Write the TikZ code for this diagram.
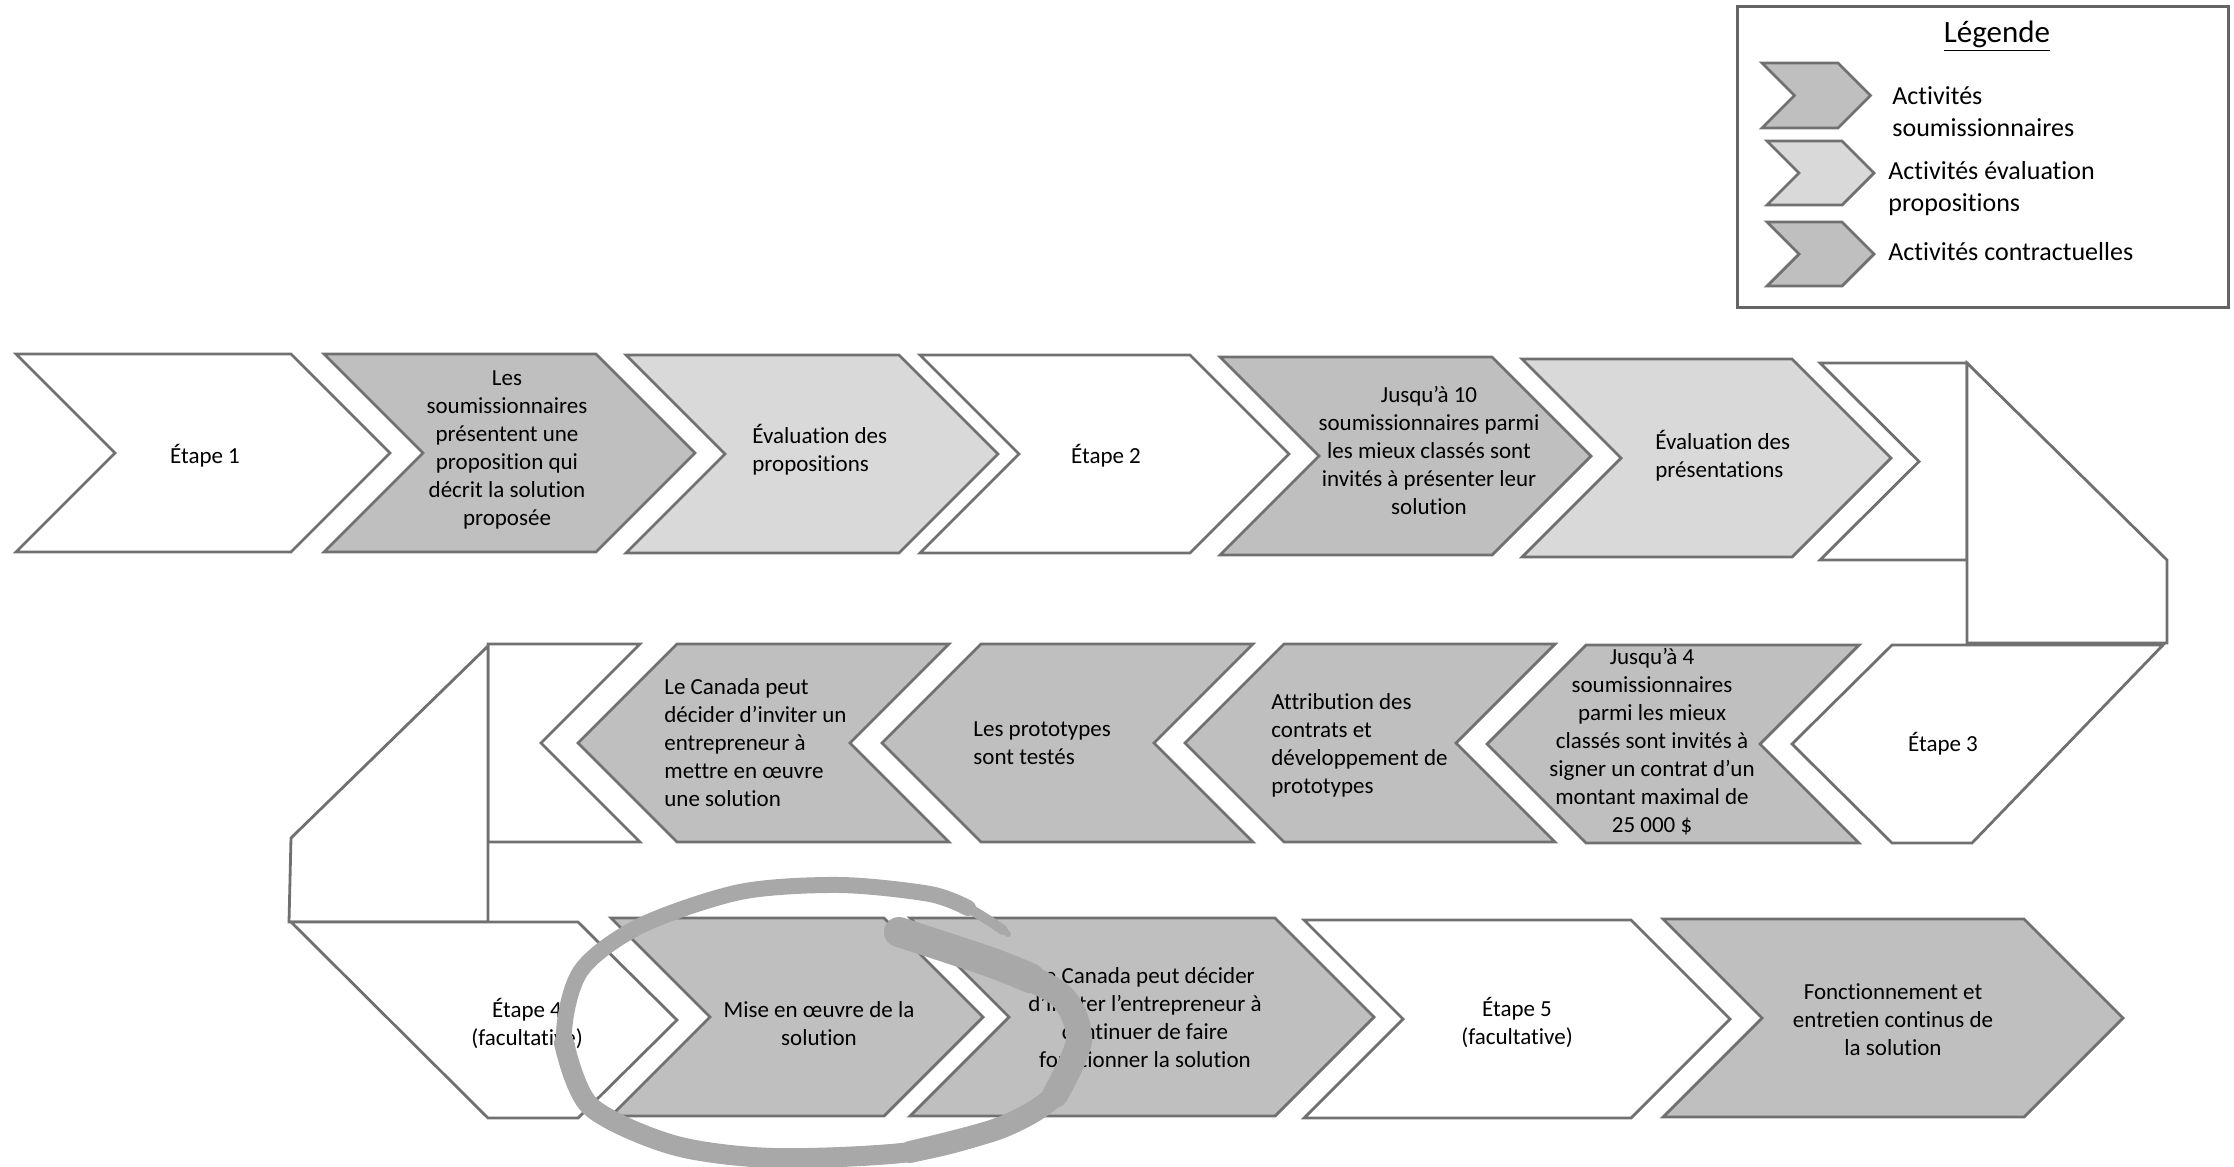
\documentclass[tikz,border=0pt]{standalone}
\usepackage{fontspec}
\setmainfont{Carlito}[Ligatures=NoCommon]
\definecolor{darkact}{HTML}{BFBFBF}
\definecolor{lightact}{HTML}{D9D9D9}
\definecolor{edgegray}{HTML}{707070}
\definecolor{ringgray}{HTML}{A8A8A8}
% chevrons: x, y (top), body width, half height, fill
\newcommand{\chevR}[5]{\draw[chevedge,fill=#5] (#1,#2) -- ++(#3,0) -- ++(#4,#4) -- ++(-#4,#4) -- ++(-#3,0) -- ++(#4,-#4) -- cycle;}
\newcommand{\chevL}[5]{\draw[chevedge,fill=#5] (#1,#2) ++(#4,0) -- ++(#3,0) -- ++(-#4,#4) -- ++(#4,#4) -- ++(-#3,0) -- ++(-#4,-#4) -- cycle;}
\begin{document}
\begin{tikzpicture}[x=0.5pt,y=-0.5pt,
  chevedge/.style={draw=edgegray,line width=1.4pt,line join=miter},
  txt/.style={font=\fontsize{11.5}{14}\selectfont,inner sep=0pt,align=center},
  legtxt/.style={font=\fontsize{13}{16}\selectfont,inner sep=0pt,align=left,anchor=west},
  ring/.style={draw=ringgray,line cap=round,line join=round}]
  \useasboundingbox (0,0) rectangle (2234,1167);

  % legende
  \draw[draw=edgegray!90!black,line width=1.5pt] (1737,6) rectangle (2228,307);
  \node[font=\fontsize{15.5}{18}\selectfont] (legtitle) at (1997,36) {\underline{Légende}};
  \chevR{1762}{63}{76}{32.5}{darkact}
  \chevR{1767}{141}{75}{32}{lightact}
  \chevR{1767}{222}{75}{32}{darkact}
  \node[legtxt] (leg1) at (1892,112) {Activités\\soumissionnaires};
  \node[legtxt] (leg2) at (1888,189) {Activités évaluation\\propositions};
  \node[legtxt] (leg3) at (1888,252) {Activités contractuelles};

  % rangee 1
  \chevR{16}{354}{275}{99}{white}
  \chevR{324}{354}{272}{99}{darkact}
  \chevR{626}{355}{273}{99}{lightact}
  \chevR{920}{355}{270}{99}{white}
  \chevR{1220}{357}{272}{99}{darkact}
  \chevR{1522}{359}{270}{99}{lightact}
  \draw[chevedge,fill=white] (1820,363) -- (1967,363) -- (1967,560) -- (1820,560) -- (1919,461.5) -- cycle;
  \draw[chevedge,fill=white] (1967,363) -- (2167,560) -- (2167,643) -- (1967,643) -- cycle;

  % rangee 2
  \draw[chevedge,fill=white] (1892,645) -- (2163,645) -- (1972,843) -- (1892,843) -- (1792,744) -- cycle;
  \chevL{1487}{645}{273}{99}{darkact}
  \chevL{1185}{644}{271}{99}{darkact}
  \chevL{882}{644}{272}{99}{darkact}
  \chevL{578}{644}{272}{99}{darkact}
  \draw[chevedge,fill=white] (488,644) -- (640,644) -- (541,743) -- (640,842) -- (488,842) -- cycle;
  \draw[chevedge,fill=white] (488,646) -- (291,838) -- (289,922) -- (488,922) -- cycle;

  % rangee 3
  \draw[chevedge,fill=white] (291,922) -- (578,922) -- (677,1020) -- (578,1118) -- (488,1118) -- cycle;
  \chevR{611}{918}{273}{99}{darkact}
  \chevR{910}{918}{365}{99}{darkact}
  \chevR{1304}{920}{327}{99}{white}
  \chevR{1663}{919}{361}{99}{darkact}

  \node[txt] (etape1) at (205,456) {Étape 1};
  \node[txt] (soumis) at (507,450) {Les\\soumissionnaires\\présentent une\\proposition qui\\décrit la solution\\proposée};
  \node[txt,align=left,anchor=west] (evalprop) at (752,450) {Évaluation des\\propositions};
  \node[txt] (etape2) at (1106,456) {Étape 2};
  \node[txt] (jusqua10) at (1429,450) {Jusqu’à 10\\soumissionnaires parmi\\les mieux classés sont\\invités à présenter leur\\solution};
  \node[txt,align=left,anchor=west] (evalpres) at (1655,456) {Évaluation des\\présentations};
  \node[txt] (etape3) at (1943,744) {Étape 3};
  \node[txt] (jusqua4) at (1652,742) {Jusqu’à 4\\soumissionnaires\\parmi les mieux\\classés sont invités à\\signer un contrat d’un\\montant maximal de\\25~000~\$};
  \node[txt,align=left,anchor=west] (attrib) at (1271,745) {Attribution des\\contrats et\\développement de\\prototypes};
  \node[txt,align=left,anchor=west] (proto) at (973,743) {Les prototypes\\sont testés};
  \node[txt,align=left,anchor=west] (canada1) at (664,743) {Le Canada peut\\décider d’inviter un\\entrepreneur à\\mettre en œuvre\\une solution};
  \node[txt] (etape4) at (527,1023) {Étape 4\\(facultative)};
  \node[txt] (mise) at (819,1024) {Mise en œuvre de la\\solution};
  \node[txt] (canada2) at (1145,1018) {Le Canada peut décider\\d’inviter l’entrepreneur à\\continuer de faire\\fonctionner la solution};
  \node[txt] (etape5) at (1517,1022) {Étape 5\\(facultative)};
  \node[txt] (fonct) at (1893,1020) {Fonctionnement et\\entretien continus de\\la solution};

  % cercle a main levee
  \draw[ring,line width=8pt] plot[smooth] coordinates {(897,932) (990,962) (1060,995) (1079,1040) (1055,1095) (1000,1128) (910,1152) (773,1158) (673,1145) (590,1106) (564,1043) (580,972) (640,926) (740,892) (840,885) (930,894) (968,908)};
  \draw[ring,line width=5pt] plot[smooth] coordinates {(930,894) (968,908) (1003,930)};
  \draw[ring,line width=3pt] (1000,927) -- (1008,934);
  \draw[ring,line width=10pt] plot[smooth] coordinates {(897,932) (990,962) (1060,995) (1079,1040) (1055,1095) (1000,1128) (910,1152) (773,1158) (673,1145) (590,1106) (564,1043)};
  \draw[ring,line width=11pt] plot[smooth] coordinates {(897,932) (990,962) (1060,995) (1079,1040) (1055,1095) (1000,1128) (910,1152)};
  \draw[ring,line width=13pt] plot[smooth] coordinates {(897,932) (990,962) (1060,995) (1079,1040) (1055,1095)};
  \draw[ring,line width=15pt] plot[smooth] coordinates {(899,932) (990,962) (1030,978)};
\end{tikzpicture}
\end{document}
